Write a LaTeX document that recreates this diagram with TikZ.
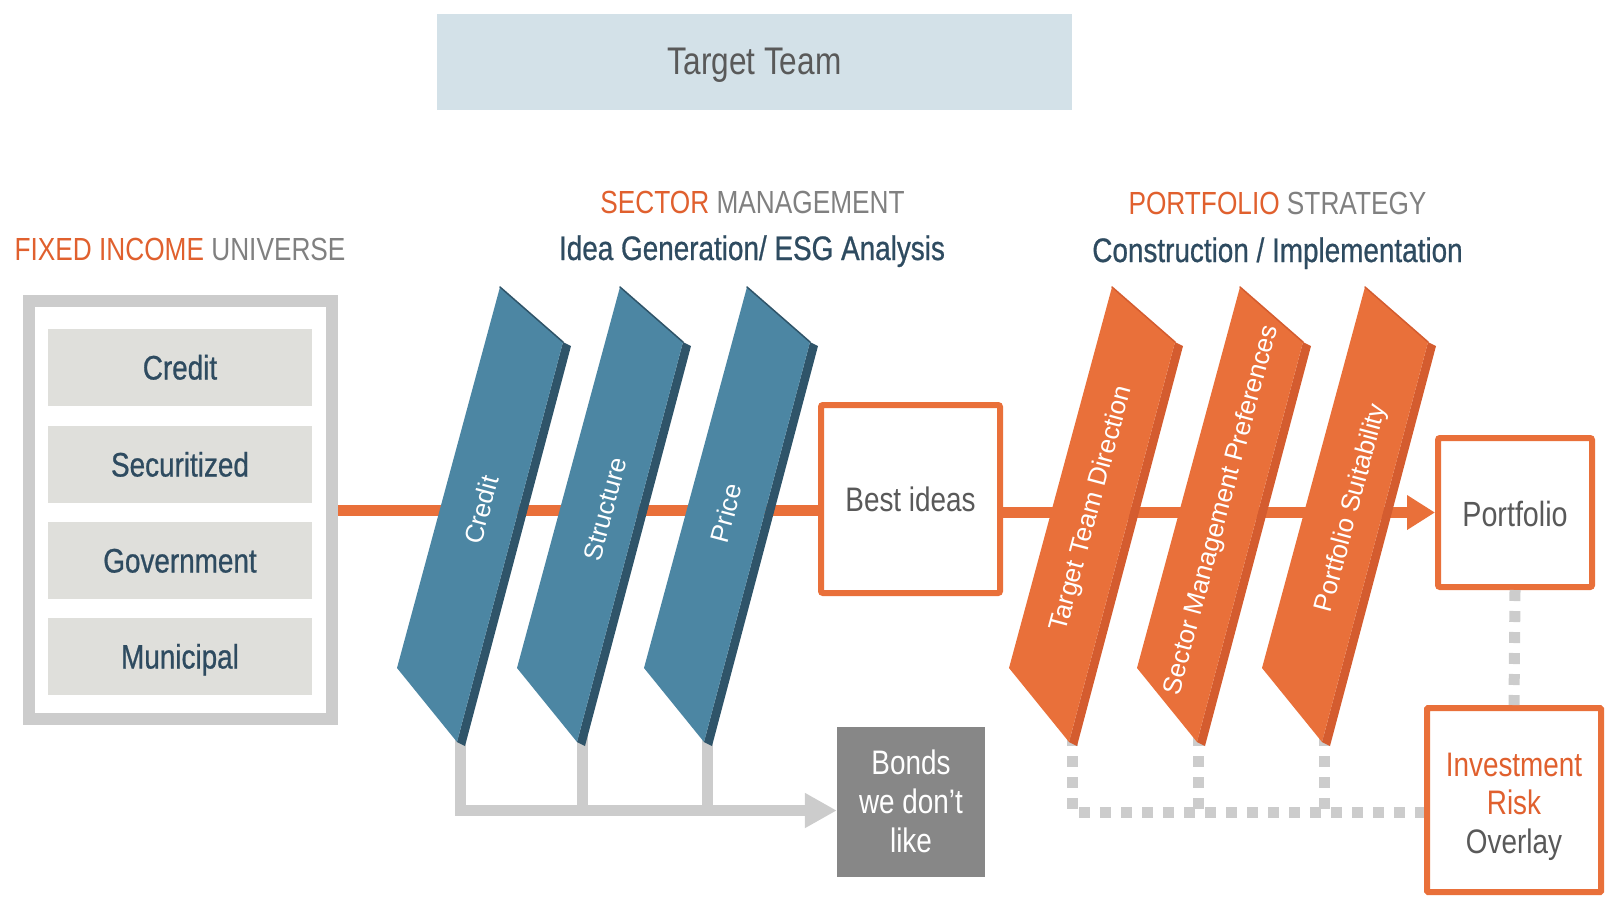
\documentclass[tikz,border=0pt]{standalone}
\usepackage{fontspec}
\setmainfont[FakeStretch=0.82]{Liberation Sans}
\newfontfamily\widefont{Liberation Sans}
\newfontfamily\semifont[FakeStretch=0.82,FakeBold=0.7]{Liberation Sans}
\usetikzlibrary{arrows.meta}

\definecolor{org}{HTML}{E9703A}
\definecolor{orgtxt}{HTML}{E0602E}
\definecolor{orgside}{HTML}{D45C2F}
\definecolor{blu}{HTML}{4C86A3}
\definecolor{bluside}{HTML}{2F5469}
\definecolor{slate}{HTML}{2E4B60}
\definecolor{graytxt}{HTML}{808080}
\definecolor{darktxt}{HTML}{595959}
\definecolor{connc}{HTML}{CCCCCC}
\definecolor{boxfill}{HTML}{DFDFDB}
\definecolor{topfill}{HTML}{D3E1E8}
\definecolor{bondfill}{HTML}{878787}

\newcommand\prismshape[3]{% #1 top x, #2 front colour, #3 side colour
  \begin{scope}[shift={(#1,287)}]
    \fill[#3] (63,55) -- (71,59) -- (-35,459) -- (-43,455) -- cycle;
    \fill[#2] (0,0) -- (63,55) -- (-43,455) -- (-103,381) -- cycle;
    \draw[#3, line width=1.5pt, line cap=round] (0,0) -- (63,55);
  \end{scope}}

\tikzset{
  mainline/.style={draw=org, line width=11pt},
  conn/.style={draw=connc, line width=11pt},
  dots/.style={draw=connc, line width=11pt, dash pattern=on 11pt off 10pt},
  catbox/.style={fill=boxfill, minimum width=264pt, minimum height=77pt, inner sep=0pt,
    text=slate, font=\semifont\fontsize{34}{40}\selectfont, text height=24pt, text depth=0pt},
  obox/.style={draw=org, line width=6pt, fill=white, rounded corners=2pt, inner sep=0pt},
  otext/.style={text=darktxt, font=\fontsize{34}{40}\selectfont, inner sep=0pt, anchor=base},
  head/.style={font=\fontsize{32}{38}\selectfont, anchor=base, inner sep=0pt},
  subhead/.style={font=\semifont\fontsize{34}{40}\selectfont, text=slate, anchor=base, inner sep=0pt},
  plabel/.style={font=\widefont\fontsize{26}{30}\selectfont, text=white, rotate=75, inner sep=0pt},
}

\begin{document}
\begin{tikzpicture}[x=1pt,y=-1pt]
\useasboundingbox (0,0) rectangle (1606,898);

% top box
\node[fill=topfill, minimum width=635pt, minimum height=96pt, inner sep=0pt] (team) at (754.5,62) {};
\node[otext, font=\fontsize{38.5}{42}\selectfont] (teamtext) at (754.5,74) {Target Team};

% headings
\node[head] (fiu) at (180,260) {\textcolor{orgtxt}{FIXED INCOME} \textcolor{graytxt}{UNIVERSE}};
\node[head] (smh) at (752.5,213) {\textcolor{orgtxt}{SECTOR} \textcolor{graytxt}{MANAGEMENT}};
\node[subhead] (igh) at (752,260) {Idea Generation/ ESG Analysis};
\node[head] (psh) at (1277.5,214.5) {\textcolor{orgtxt}{PORTFOLIO} \textcolor{graytxt}{STRATEGY}};
\node[subhead] (cih) at (1277.5,262) {Construction / Implementation};

% fixed income universe
\node[draw=connc, line width=12pt, minimum width=303pt, minimum height=418pt, inner sep=0pt]
      (fi) at (180.5,510) {};
\node[catbox] (c1) at (180,367.5) {Credit};
\node[catbox] (c2) at (180,464.5) {Securitized};
\node[catbox] (c3) at (180,560.5) {Government};
\node[catbox] (c4) at (180,656.5) {Municipal};

% boxes
\node[obox, minimum width=179pt, minimum height=188pt] (best) at (910.5,499) {};
\node[otext] (besttext) at (910.5,511) {Best ideas};
\node[obox, minimum width=154pt, minimum height=149pt] (portfolio) at (1515,512.5) {};
\node[otext, font=\fontsize{35}{40}\selectfont] (portfoliotext) at (1515,526.5) {Portfolio};
\node[fill=bondfill, minimum width=148pt, minimum height=150pt, inner sep=0pt, text=white,
      align=center, font=\fontsize{34}{39}\selectfont] (bonds) at (911,801.5) {Bonds\\we don’t\\like};
\node[obox, minimum width=174pt, minimum height=184pt, rounded corners=1pt] (risk) at (1514,800) {};
\node[text=darktxt, inner sep=0pt, align=center, font=\fontsize{34}{38.5}\selectfont, text depth=0pt]
      (risktext) at (1514,803) {\textcolor{orgtxt}{Investment}\\\textcolor{orgtxt}{Risk}\\Overlay};

% bottom coordinates of the prisms
\coordinate (credit-b) at (460,735);
\coordinate (structure-b) at (582,735);
\coordinate (price-b) at (707,735);
\coordinate (ttd-b) at (1072,735);
\coordinate (smp-b) at (1198,735);
\coordinate (ps-b) at (1324,735);

% main orange flow
\draw[mainline] (fi.east |- 0,510) -- (best.west |- 0,510);
\draw[mainline, -{Triangle[length=28pt,width=33pt]}] (best.east |- portfolio.west) -- (portfolio.west);

% rejected bonds connector
\draw[conn, -{Triangle[length=32pt,width=33pt]}] (credit-b) |- ([yshift=-9pt]bonds.west);
\draw[conn] (structure-b) -- (structure-b |- 0,810);
\draw[conn] (price-b) -- (price-b |- 0,810);

% risk overlay dotted connectors
\draw[dots] (ttd-b) |- ([yshift=-12pt]risk.west);
\draw[dots] (smp-b) -- (smp-b |- 0,812);
\draw[dots] (ps-b) -- (ps-b |- 0,812);
\draw[dots] (portfolio.south) -- (risk.north);

% prisms
\prismshape{500}{blu}{bluside}
\prismshape{620}{blu}{bluside}
\prismshape{747}{blu}{bluside}
\prismshape{1112}{org}{orgside}
\prismshape{1240}{org}{orgside}
\prismshape{1365}{org}{orgside}

% prism labels
\node[plabel] (lcredit) at (481,510) {Credit};
\node[plabel] (lstructure) at (605,509) {Structure};
\node[plabel] (lprice) at (726,513) {Price};
\node[plabel] (lttd) at (1092,509) {Target Team Direction};
\node[plabel] (lsmp) at (1222,510) {Sector Management Preferences};
\node[plabel] (lps) at (1352,508) {Portfolio Suitability};
\end{tikzpicture}
\end{document}
